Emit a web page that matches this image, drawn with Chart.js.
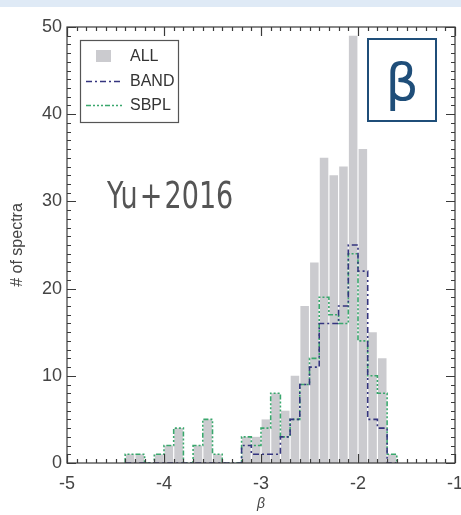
<!DOCTYPE html>
<html>
<head>
<meta charset="utf-8">
<title>Beta histogram</title>
<script src="https://cdn.jsdelivr.net/npm/chart.js@4.4.1/dist/chart.umd.min.js"></script>
<style>
  html, body { margin: 0; padding: 0; background: #fff; }
  #wrap { position: relative; width: 461px; height: 515px; overflow: hidden; }
  #strip { position: absolute; left: 0; top: 0; width: 461px; height: 7px; background: #dfeaf6; }
  #tag {
    position: absolute; left: 107px; top: 174px;
    font-family: "DejaVu Sans", sans-serif;
    font-size: 37px; color: #555; white-space: nowrap;
    transform: scaleX(0.73); transform-origin: 0 0;
  }
  #beta {
    position: absolute; left: 367px; top: 38px; width: 66px; height: 80px;
    border: 2px solid #1f4e79; color: #1f4e79;
    font: 52px "DejaVu Sans", sans-serif; text-align: center; line-height: 84px;
  }
</style>
</head>
<body>
<div id="wrap">
  <canvas id="histChart" width="461" height="515"></canvas>
  <div id="strip"></div>
  <div id="tag">Yu<span style="margin:0 3px">+</span>2016</div>
  <div id="beta">β</div>
</div>
<script>
// left edges of the 0.1-wide beta bins
var binLeft = [-4.4, -4.3, -4.2, -4.1, -4.0, -3.9, -3.8, -3.7, -3.6, -3.5,
               -3.4, -3.3, -3.2, -3.1, -3.0, -2.9, -2.8, -2.7, -2.6, -2.5,
               -2.4, -2.3, -2.2, -2.1, -2.0, -1.9, -1.8, -1.7];
var binWidth = 0.1;

var allCounts  = [1, 1, 0, 1, 2, 4, 0, 2, 5, 1,
                  0, 0, 3, 3, 5, 8, 6, 10, 18, 23,
                  35, 33, 34, 49, 36, 15, 12, 1];
var bandCounts = [0, 0, 0, 0, 0, 0, 0, 0, 0, 0,
                  0, 0, 2, 1, 1, 1, 3, 5, 9, 11,
                  16, 16, 18, 25, 22, 5, 4, 0];
var sbplCounts = [1, 1, 0, 1, 2, 4, 0, 2, 5, 1,
                  0, 0, 3, 2, 4, 8, 3, 5, 9, 12,
                  19, 17, 16, 24, 14, 10, 8, 1];

var xTicks = [-5, -4, -3, -2, -1];
var yTicks = [0, 10, 20, 30, 40, 50];

var FONT = '"Liberation Sans", Arial, sans-serif';
var INK = '#444';

function barPoints(counts) {
  return binLeft.map(function(x, i) { return { x: x + binWidth / 2, y: counts[i] }; });
}

// outline of a histogram: up from zero, across each bin, back down at the end
function stepPoints(counts) {
  var pts = [{ x: binLeft[0], y: 0 }];
  binLeft.forEach(function(x, i) { pts.push({ x: x, y: counts[i] }); });
  pts.push({ x: binLeft[binLeft.length - 1] + binWidth, y: 0 });
  return pts;
}

var framePlugin = {
  id: 'frame',
  afterDraw: function(chart) {
    var ctx = chart.ctx, a = chart.chartArea;
    var xs = chart.scales.x, ys = chart.scales.y;
    ctx.save();
    ctx.strokeStyle = '#3a3a3a';
    ctx.lineWidth = 1.2;
    ctx.strokeRect(a.left, a.top, a.right - a.left, a.bottom - a.top);
    ctx.beginPath();
    for (var k = 0; k <= 40; k++) {
      var px = Math.round(xs.getPixelForValue(xs.min + k * 0.1)) + 0.5;
      var lx = (k % 10 === 0) ? 9 : 4;
      ctx.moveTo(px, a.bottom); ctx.lineTo(px, a.bottom - lx);
      ctx.moveTo(px, a.top); ctx.lineTo(px, a.top + lx);
    }
    for (var j = 0; j <= 50; j++) {
      var py = Math.round(ys.getPixelForValue(j)) + 0.5;
      var ly = (j % 10 === 0) ? 9 : 4;
      ctx.moveTo(a.left, py); ctx.lineTo(a.left + ly, py);
      ctx.moveTo(a.right, py); ctx.lineTo(a.right - ly, py);
    }
    ctx.stroke();
    ctx.restore();
  }
};

var boxLegend = {
  id: 'boxLegend',
  afterDraw: function(chart) {
    var ctx = chart.ctx;
    var x0 = 80, y0 = 40, w = 98, h = 82;
    var rows = [56, 81, 105];
    ctx.save();
    ctx.fillStyle = '#fff';
    ctx.fillRect(x0, y0, w, h);
    ctx.strokeStyle = '#555';
    ctx.lineWidth = 1.2;
    ctx.strokeRect(x0 + 0.5, y0 + 0.5, w, h);
    ctx.font = '16px ' + FONT;
    ctx.textBaseline = 'middle';
    var order = [2, 0, 1];
    order.forEach(function(di, r) {
      var ds = chart.data.datasets[di];
      var y = rows[r];
      if (ds.type === 'bar') {
        ctx.fillStyle = ds.backgroundColor;
        ctx.fillRect(96, y - 6, 15, 12);
      } else {
        ctx.strokeStyle = ds.borderColor;
        ctx.lineWidth = ds.borderWidth;
        ctx.setLineDash(ds.borderDash);
        ctx.beginPath();
        ctx.moveTo(86, y + 0.5);
        ctx.lineTo(122, y + 0.5);
        ctx.stroke();
        ctx.setLineDash([]);
      }
      ctx.fillStyle = '#333';
      ctx.fillText(ds.label, 130, y + 1);
    });
    ctx.restore();
  }
};

var ctx = document.getElementById('histChart').getContext('2d');
var histChart = new Chart(ctx, {
  data: {
    datasets: [{
      type: 'line',
      label: 'BAND',
      data: stepPoints(bandCounts),
      borderColor: '#35357f',
      borderWidth: 1.6,
      borderDash: [6, 3, 2, 3],
      stepped: true,
      pointRadius: 0,
      fill: false,
      order: 0
    }, {
      type: 'line',
      label: 'SBPL',
      data: stepPoints(sbplCounts),
      borderColor: '#3aa76d',
      borderWidth: 1.6,
      borderDash: [5, 2, 2, 2, 2, 2, 2, 2],
      stepped: true,
      pointRadius: 0,
      fill: false,
      order: 1
    }, {
      type: 'bar',
      label: 'ALL',
      data: barPoints(allCounts),
      backgroundColor: '#cbcbcf',
      barPercentage: 0.88,
      categoryPercentage: 1.0,
      order: 2
    }]
  },
  options: {
    responsive: false,
    animation: false,
    events: [],
    layout: { padding: { left: 0, right: 6, top: 27, bottom: 0 } },
    plugins: {
      legend: { display: false },
      tooltip: { enabled: false }
    },
    scales: {
      x: {
        type: 'linear',
        min: -5,
        max: -1,
        offset: false,
        grid: { display: false, drawTicks: false },
        border: { display: false },
        afterBuildTicks: function(scale) {
          scale.ticks = xTicks.map(function(v) { return { value: v }; });
        },
        ticks: {
          padding: 10,
          color: INK,
          maxRotation: 0,
          font: { family: FONT, size: 18 },
          callback: function(v) { return String(v); }
        },
        title: {
          display: true,
          text: 'β',
          color: INK,
          font: { family: FONT, size: 14, style: 'italic' },
          padding: { top: 0, bottom: 2 }
        },
        afterFit: function(scale) {
          scale.height = 52;
          scale.paddingLeft = 0;
          scale.paddingRight = 0;
        }
      },
      y: {
        min: 0,
        max: 50,
        grid: { display: false, drawTicks: false },
        border: { display: false },
        afterBuildTicks: function(scale) {
          scale.ticks = yTicks.map(function(v) { return { value: v }; });
        },
        ticks: {
          padding: 5,
          color: INK,
          font: { family: FONT, size: 18 }
        },
        title: {
          display: true,
          text: '# of spectra',
          color: INK,
          font: { family: FONT, size: 16 },
          padding: { top: 8, bottom: 0 }
        },
        afterFit: function(scale) {
          scale.width = 67;
          scale.paddingTop = 0;
          scale.paddingBottom = 0;
        }
      }
    }
  },
  plugins: [framePlugin, boxLegend]
});
</script>
</body>
</html>
